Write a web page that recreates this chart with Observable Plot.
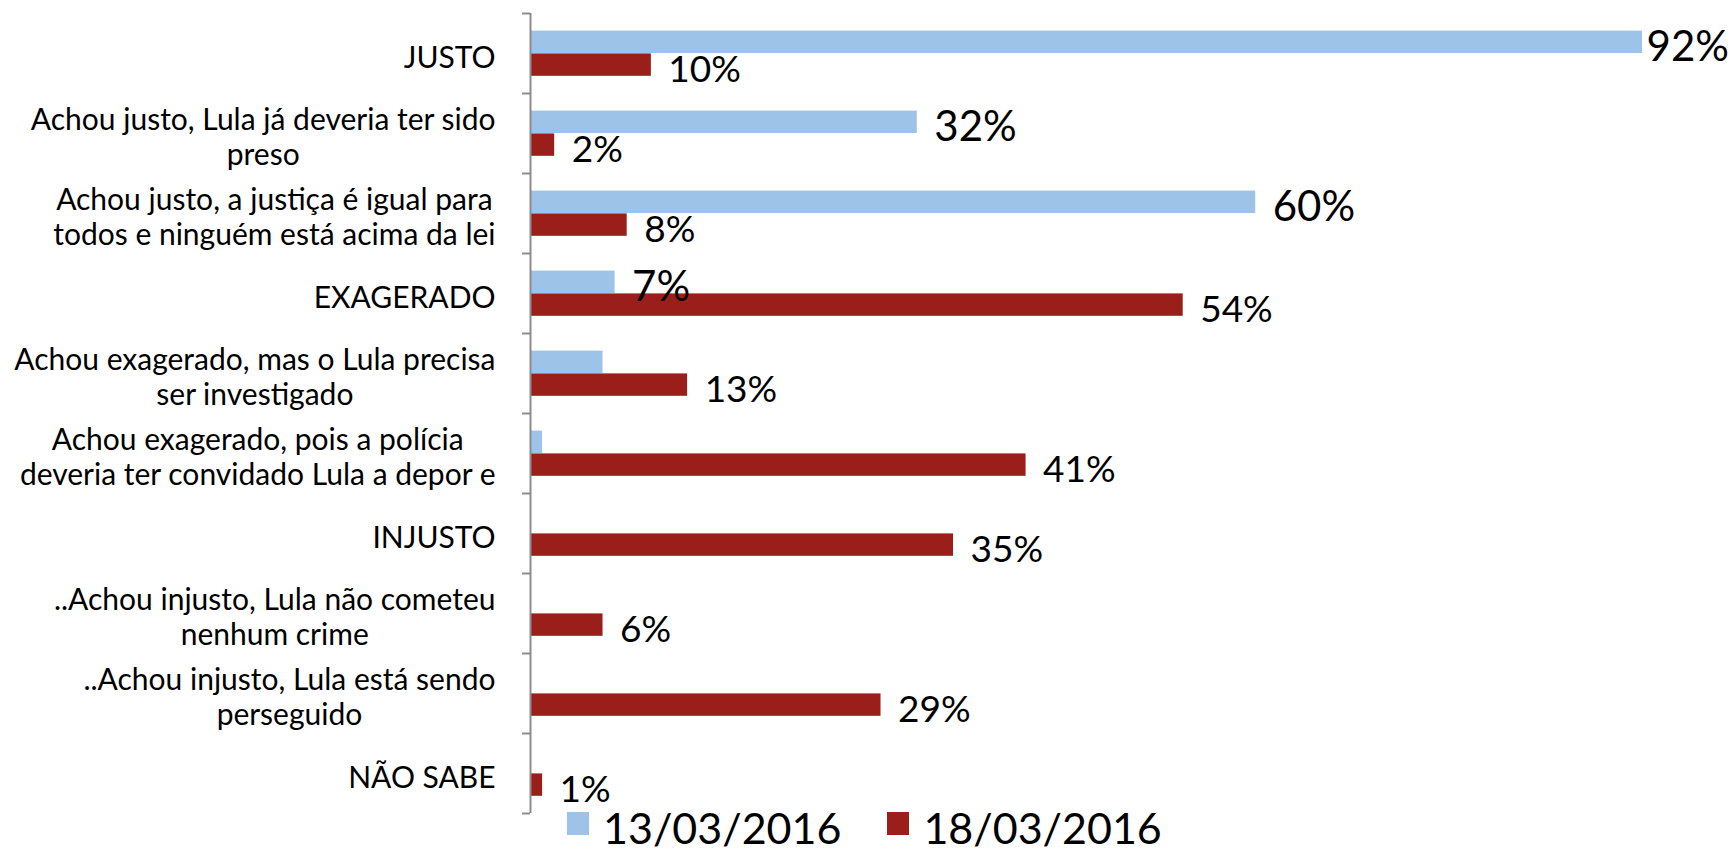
<!DOCTYPE html>
<html><head><meta charset="utf-8">
<script src="https://cdn.jsdelivr.net/npm/d3@7"></script>
<script src="https://cdn.jsdelivr.net/npm/@observablehq/plot@0.6"></script>
<style>
html,body{margin:0;padding:0;background:#fff;}
#wrap{position:relative;width:1735px;height:854px;overflow:hidden;background:#fff;}
#legend{position:absolute;left:567px;top:805px;}
#legend .lg-swatches{font-family:Lato,sans-serif;font-size:43px;color:#000;margin:0;min-height:0;line-height:46px;}
#legend .lg-swatch{margin-right:46px;}
#legend .lg-swatch > svg{margin-right:14px;position:relative;top:-5px;}
</style></head><body><div id="wrap"><div id="chart"></div><div id="legend"></div></div>
<script>
const categories = [
  "JUSTO",
  "Achou justo, Lula já deveria ter sido\npreso",
  "Achou justo, a justiça é igual para\ntodos e ninguém está acima da lei",
  "EXAGERADO",
  "Achou exagerado, mas o Lula precisa\nser investigado",
  "Achou exagerado, pois a polícia\ndeveria ter convidado Lula a depor e",
  "INJUSTO",
  "..Achou injusto, Lula não cometeu\nnenhum crime",
  "..Achou injusto, Lula está sendo\nperseguido",
  "NÃO SABE"
];
const seriesNames = ["13/03/2016", "18/03/2016"];
const values13 = [92, 32, 60, 7, 6, 1, null, null, null, null];
const values18 = [10, 2, 8, 54, 13, 41, 35, 6, 29, 1];
const labels13 = ["92%", "32%", "60%", "7%", "", "", "", "", "", ""];
const labels18 = ["10%", "2%", "8%", "54%", "13%", "41%", "35%", "6%", "29%", "1%"];
const seriesColors = ["#9DC3E8", "#9A1F1A"];
const axisColor = "#8c8c8c";

const rows = categories.flatMap((c, i) => [
  {i, series: seriesNames[0], value: values13[i], label: labels13[i], slot: 0},
  {i, series: seriesNames[1], value: values18[i], label: labels18[i], slot: 1}
]).filter(d => d.value != null);

const plot = Plot.plot({
  width: 1735, height: 815,
  marginLeft: 530, marginRight: 93, marginTop: 13, marginBottom: 2,
  x: {type: "linear", domain: [0, 92], axis: null},
  y: {type: "linear", domain: [0, 10], reverse: true, axis: null},
  color: {domain: seriesNames, range: seriesColors},
  style: {fontFamily: "Lato, sans-serif", background: "#fff", overflow: "visible", color: "#000"},
  marks: [
    Plot.rect(rows, {x1: 0, x2: "value", y1: d => d.i + 0.22 + d.slot * 0.285, y2: d => d.i + 0.5 + d.slot * 0.285, fill: "series"}),
    Plot.ruleX([0], {stroke: axisColor, strokeWidth: 2}),
    Plot.axisY({ticks: d3.range(11), tickSize: 8, tickFormat: () => "", stroke: axisColor, strokeWidth: 2, label: null}),
    Plot.text(categories, {x: 0, y: (d, i) => i + 0.5, text: d => d, textAnchor: "end", dx: -35, dy: 3, fontSize: 30, lineHeight: 1.17, fill: "#000", className: "catlab"}),
    Plot.text(rows.filter(d => d.slot === 0 && d.label), {x: "value", y: d => d.i + 0.36, text: "label", textAnchor: "start", dx: 17, dy: 5, fontSize: 42, fill: "#000", className: "vlab"}),
    Plot.text(rows.filter(d => d.slot === 1 && d.label), {x: "value", y: d => d.i + 0.645, text: "label", textAnchor: "start", dx: 17, dy: 5, fontSize: 37, fill: "#000", className: "vlab"})
  ]
});
document.getElementById("chart").appendChild(plot);

// center wrapped category lines within their right-aligned block
plot.querySelectorAll("g.catlab text").forEach(t => {
  const spans = [...t.querySelectorAll("tspan")];
  if (spans.length < 2) return;
  const lens = spans.map(s => s.getComputedTextLength());
  const L = Math.max(...lens);
  spans.forEach((s, k) => s.setAttribute("x", -(L - lens[k]) / 2));
});
// keep value labels inside the frame
plot.querySelectorAll("g.vlab text").forEach(t => {
  const b = t.getBBox();
  const m = t.getCTM();
  const right = m.e + (b.x + b.width) * m.a;
  if (right > 1729) {
    t.setAttribute("transform", (t.getAttribute("transform") || "") + ` translate(${1729 - right},0)`);
  }
});

const legend = Plot.legend({color: {type: "ordinal", domain: seriesNames, range: seriesColors}, swatchWidth: 22, swatchHeight: 23, className: "lg"});
document.getElementById("legend").appendChild(legend);
</script></body></html>
